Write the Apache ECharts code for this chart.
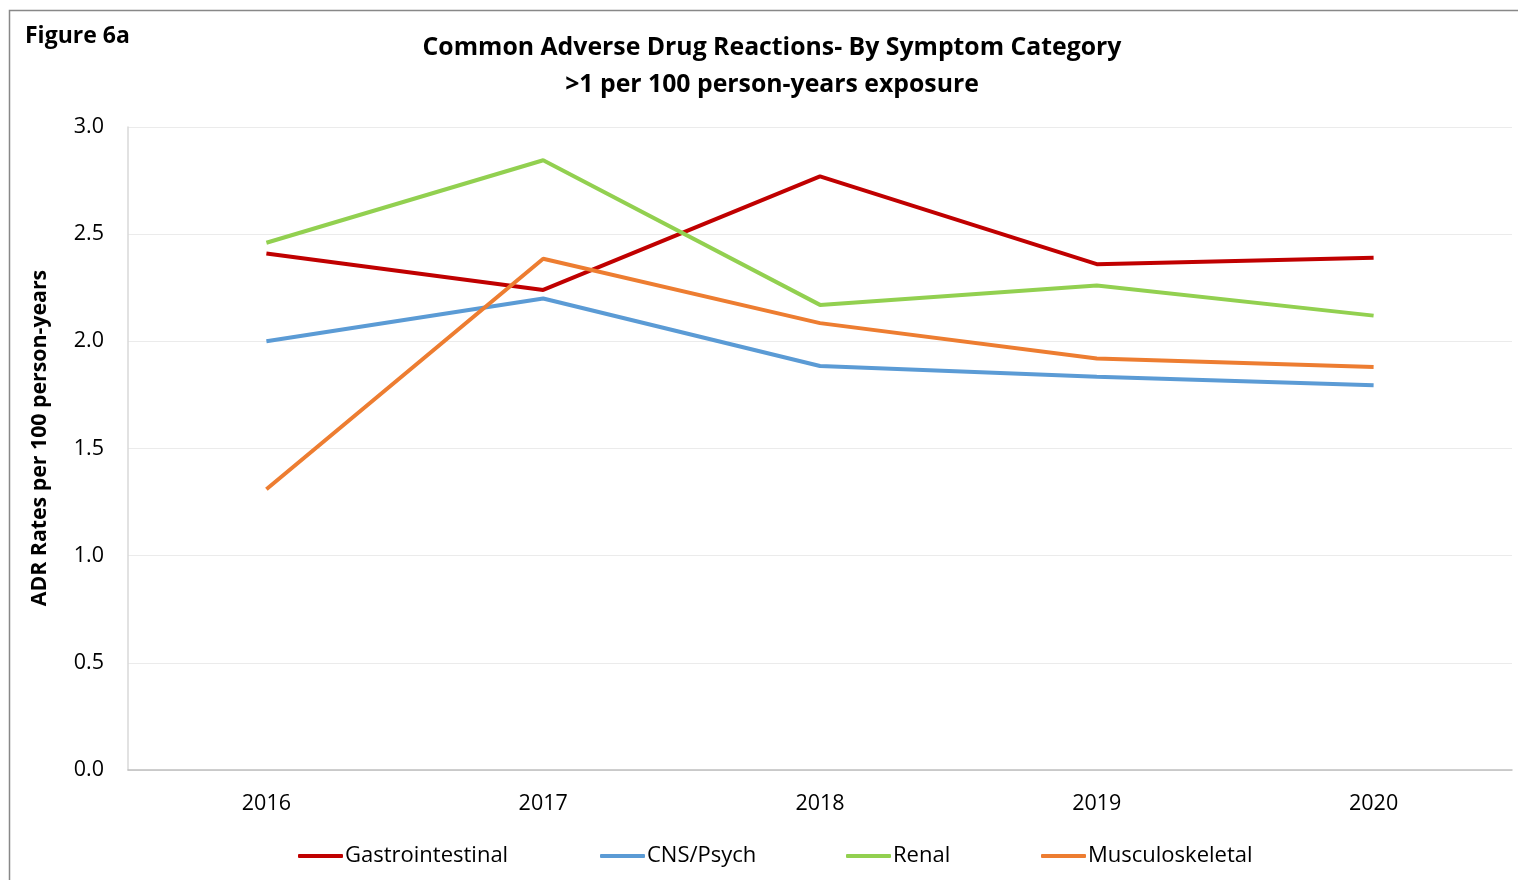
<!DOCTYPE html>
<html><head><meta charset="utf-8">
<script src="https://cdn.jsdelivr.net/npm/echarts@6/dist/echarts.min.js"></script>
<style>html,body{margin:0;padding:0;background:#fff}#c{width:1518px;height:880px}</style>
</head><body><div id="c"></div>
<script>
const years = ['2016','2017','2018','2019','2020'];
const gastro = [2.41, 2.24, 2.77, 2.36, 2.39];
const cns = [2.00, 2.20, 1.885, 1.835, 1.795];
const renal = [2.46, 2.845, 2.17, 2.26, 2.12];
const musculo = [1.31, 2.385, 2.085, 1.92, 1.88];
const seriesNames = ['Gastrointestinal','CNS/Psych','Renal','Musculoskeletal'];
const colors = ['#c00000','#5b9bd5','#92d050','#ed7d31'];
const legendLefts = [293, 595, 841, 1036];

const chart = echarts.init(document.getElementById('c'));
const data = [gastro, cns, renal, musculo];
const font = 'Liberation Sans Narrow, Open Sans, sans-serif';
chart.setOption({
  animation:false,
  title:{text:'Common Adverse Drug Reactions- By Symptom Category\n>1 per 100 person-years exposure',
    left:767, top:24, textAlign:'center',
    textStyle:{fontFamily:'Open Sans', fontWeight:'bold', fontSize:24.8, lineHeight:37, color:'#000'}},
  graphic:[
    {type:'rect', shape:{x:9.5,y:10.5,width:1530,height:900}, style:{fill:'none', stroke:'#888', lineWidth:1.5}, silent:true},
    {type:'text', left:25, top:25, style:{text:'Figure 6a', font:'bold 23px Open Sans', fill:'#000'}},
    {type:'text', x:40, y:438, rotation:Math.PI/2,
      style:{text:'ADR Rates per 100 person-years', font:'bold 21.3px Open Sans', fill:'#000', align:'center', verticalAlign:'middle'}}
  ],
  legend: seriesNames.map((n,i)=>({data:[n], left:legendLefts[i], top:840, itemWidth:45, itemHeight:4, itemGap:2,
      icon:'roundRect', textStyle:{fontFamily:font, fontSize:22, color:'#000', padding:[0,0,0,-3]}})),
  grid:{left:128, right:6, top:127, bottom:110, containLabel:false},
  xAxis:{type:'category', data:years, boundaryGap:true,
    axisLine:{lineStyle:{color:'#bfbfbf', width:1.5}}, axisTick:{show:false},
    axisLabel:{color:'#000', fontFamily:'Open Sans', fontSize:21.5, margin:23}},
  yAxis:{type:'value', min:0, max:3, interval:0.5,
    axisLine:{show:true, lineStyle:{color:'#d9d9d9', width:1.5}},
    splitLine:{lineStyle:{color:'#ebebeb', width:1}},
    axisLabel:{color:'#000', fontFamily:'Open Sans', fontSize:21.5, margin:24, formatter:v=>v.toFixed(1)}},
  series: seriesNames.map((n,i)=>({name:n, type:'line', data:data[i], symbol:'none',
     lineStyle:{color:colors[i], width:4}, itemStyle:{color:colors[i]}}))
});
</script></body></html>
